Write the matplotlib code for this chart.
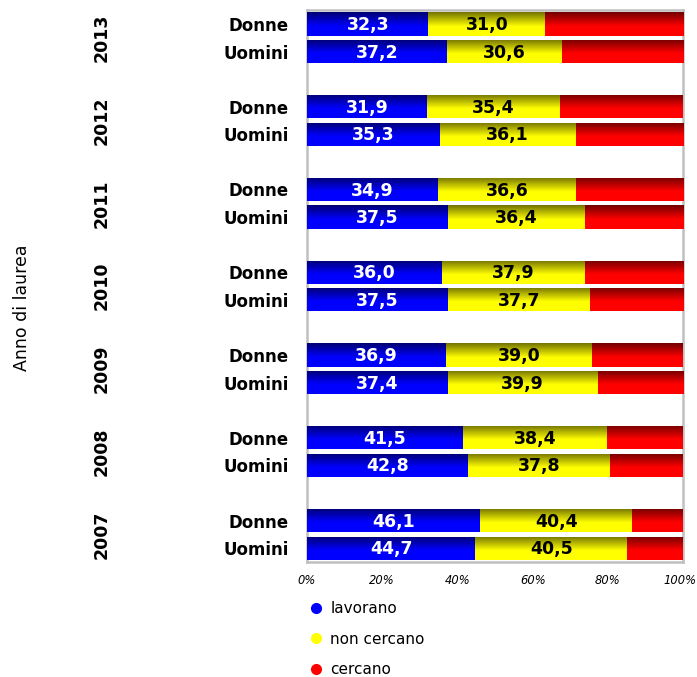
import numpy as np
import matplotlib
matplotlib.use("Agg")
import matplotlib.pyplot as plt
import matplotlib.transforms as mtransforms
from matplotlib.lines import Line2D
from matplotlib.colors import to_rgb

years = ["2013", "2012", "2011", "2010", "2009", "2008", "2007"]
groups = ["Donne", "Uomini"]
lavorano_donne = [32.3, 31.9, 34.9, 36.0, 36.9, 41.5, 46.1]
noncercano_donne = [31.0, 35.4, 36.6, 37.9, 39.0, 38.4, 40.4]
lavorano_uomini = [37.2, 35.3, 37.5, 37.5, 37.4, 42.8, 44.7]
noncercano_uomini = [30.6, 36.1, 36.4, 37.7, 39.9, 37.8, 40.5]
series_names = ["lavorano", "non cercano", "cercano"]
series_colors = ["#0000ff", "#ffff00", "#ff0000"]
xticks = [0, 20, 40, 60, 80, 100]
xtick_labels = ["0%", "20%", "40%", "60%", "80%", "100%"]

fig = plt.figure(figsize=(6.97, 6.77), dpi=100)
ax = fig.add_axes([0.4405, 0.170, 0.5395, 0.815])

n = len(years)
labels_pos, labels_txt = [], []
lav, nonc, cerc, pos = [], [], [], []
for i, yr in enumerate(years):
    base = 3 * (n - 1 - i)
    yd, yu = base + 1, base
    for yy, l, nc in [(yd, lavorano_donne[i], noncercano_donne[i]),
                      (yu, lavorano_uomini[i], noncercano_uomini[i])]:
        pos.append(yy)
        lav.append(l)
        nonc.append(nc)
        cerc.append(100 - l - nc)
    labels_pos += [yd, yu]
    labels_txt += groups

pos = np.array(pos, float)
lav = np.array(lav); nonc = np.array(nonc); cerc = np.array(cerc)
h = 0.84

def gradient_img(color, N=64):
    rgb = np.array(to_rgb(color))
    t = np.linspace(0, 1, N)
    f = np.clip(0.45 + t / 0.6 * 0.55, 0, 1)
    return f[:, None, None] * rgb[None, None, :]

lefts = [np.zeros_like(lav), lav, lav + nonc]
vals = [lav, nonc, cerc]
for k in range(3):
    bars = ax.barh(pos, vals[k], left=lefts[k], height=h, color=series_colors[k],
                   zorder=2, linewidth=0)
    img = gradient_img(series_colors[k])
    for rect in bars:
        x0, y0 = rect.get_x(), rect.get_y()
        im = ax.imshow(img, extent=[x0, x0 + rect.get_width(), y0, y0 + rect.get_height()],
                       origin="upper", aspect="auto", zorder=3, interpolation="bilinear")
        im.set_clip_path(rect)

for y, l, nc in zip(pos, lav, nonc):
    ax.text(l / 2, y - 0.04, f"{l:.1f}".replace(".", ","), ha="center", va="center",
            color="white", fontsize=12.5, fontweight="bold", zorder=5)
    ax.text(l + nc / 2, y - 0.04, f"{nc:.1f}".replace(".", ","), ha="center", va="center",
            color="black", fontsize=12.5, fontweight="bold", zorder=5)

ax.set_xlim(0, 100)
ax.set_ylim(-0.5, 3 * n - 1.5)
ax.set_xticks(xticks)
ax.set_xticklabels(xtick_labels, fontsize=8.3, style="italic")
ax.tick_params(axis="x", length=0, pad=9)
last = ax.get_xticklabels()[-1]
last.set_transform(last.get_transform() +
                   mtransforms.ScaledTranslation(-3 / 100, 0, fig.dpi_scale_trans))
ax.set_yticks(labels_pos)
ax.set_yticklabels(labels_txt, fontsize=12, fontweight="bold")
ax.tick_params(axis="y", length=0, pad=13)
for s in ax.spines.values():
    s.set_color("#c0c0c0")
    s.set_linewidth(1.8)

for i, yr in enumerate(years):
    yc = 3 * (n - 1 - i) + 0.5
    ax.text(-0.545, yc, yr, transform=ax.get_yaxis_transform(), rotation=90,
            ha="center", va="center", fontsize=12.5, fontweight="bold")

fig.text(0.032, 0.545, "Anno di laurea", rotation=90, ha="center", va="center", fontsize=12.5)

handles = [Line2D([], [], marker="o", linestyle="none", markersize=7,
                  markerfacecolor=c, markeredgecolor=c) for c in series_colors]
fig.legend(handles, series_names, loc="upper left", bbox_to_anchor=(0.42, 0.132),
           frameon=False, fontsize=11, handletextpad=0.35, labelspacing=1.0,
           handlelength=1.2)

fig.savefig("out.png", dpi=100)
